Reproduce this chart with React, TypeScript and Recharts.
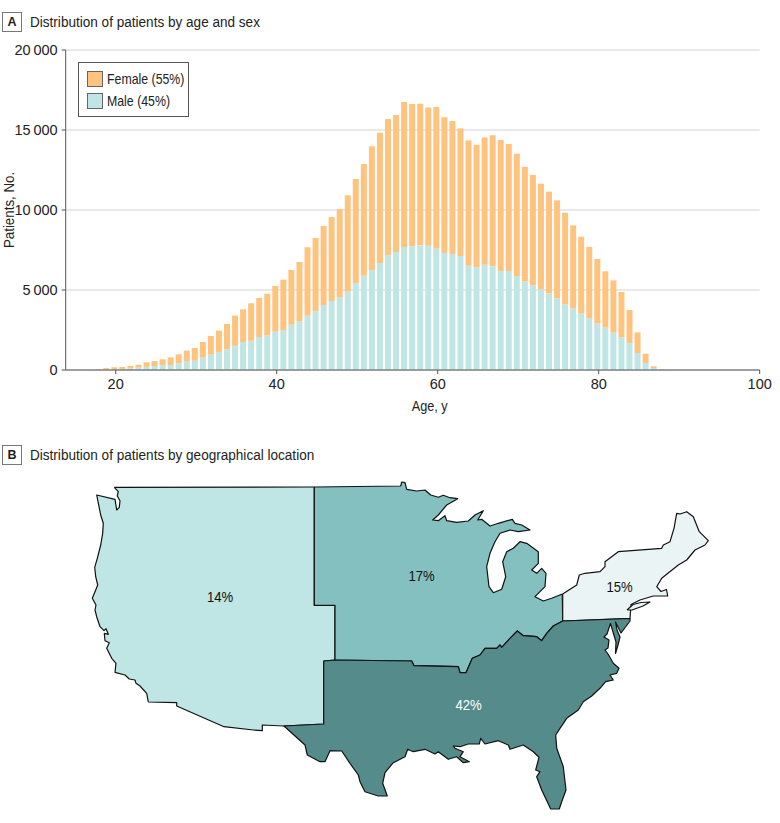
import {
  BarChart,
  Bar,
  XAxis,
  YAxis,
  CartesianGrid,
  Legend,
  ScatterChart,
  Scatter,
} from "recharts";

const ages = [
  18, 19, 20, 21, 22, 23, 24, 25, 26, 27, 28, 29, 30, 31, 32, 33, 34, 35, 36, 37, 38, 39, 40, 41,
  42, 43, 44, 45, 46, 47, 48, 49, 50, 51, 52, 53, 54, 55, 56, 57, 58, 59, 60, 61, 62, 63, 64, 65,
  66, 67, 68, 69, 70, 71, 72, 73, 74, 75, 76, 77, 78, 79, 80, 81, 82, 83, 84, 85, 86, 87, 88,
];
const male = [
  10, 30, 50, 60, 100, 150, 200, 250, 300, 310, 420, 550, 580, 770, 960, 1130, 1290, 1510, 1750,
  1830, 2060, 2150, 2400, 2500, 2830, 3040, 3400, 3670, 4060, 4310, 4520, 4900, 5420, 5900, 6250,
  6690, 7170, 7375, 7690, 7730, 7790, 7770, 7600, 7310, 7250, 7125, 6520, 6420, 6580, 6480, 6190,
  6190, 5875, 5540, 5290, 5040, 4790, 4480, 4100, 3850, 3520, 3250, 2900, 2650, 2330, 2040, 1690,
  1060, 440, 125, 10,
];
const female = [
  40, 90, 120, 130, 150, 180, 280, 310, 370, 480, 560, 660, 795, 980, 1165, 1330, 1585, 1890, 2040,
  2340, 2440, 2620, 2850, 3150, 3420, 3710, 4270, 4580, 4940, 5250, 5540, 6015, 6520, 6975, 7730,
  8140, 8520, 8565, 9060, 8895, 8855, 8630, 8840, 8480, 8310, 7975, 7830, 7660, 7960, 8190, 8185,
  7935, 7645, 7160, 6900, 6610, 6360, 6120, 5730, 5190, 4810, 4440, 4040, 3520, 3270, 2835, 2060,
  1290, 580, 105, 30,
];
const xTicks = [20, 40, 60, 80, 100];
const yTicks = [0, 5000, 10000, 15000, 20000];

type Pt = [number, number];

// map outlines, same units as the page
const westOutline: Pt[] = [
  [114.3, 487.3], [313.3, 487], [314.3, 487], [314.3, 605.3], [335, 605.3], [335, 660], [323.7, 661],
  [323.7, 724], [284, 726], [262.3, 725], [262.3, 730.7], [253.3, 730], [224, 726.7], [176.7, 706],
  [176.7, 702.7], [148.3, 702], [146.7, 693.3], [140, 686], [136, 683.3], [135, 680], [129.3, 679],
  [125, 675], [115, 672.3], [116, 663.3], [111.7, 658.3], [106.7, 648.3], [109.3, 642.7], [105, 640.7],
  [104.3, 633.3], [108.3, 634.3], [106, 628.7], [104, 630.7], [100, 626.7], [96.7, 616.7], [95, 610],
  [96, 605], [92.3, 598.3], [95, 591.7], [97.7, 585], [95.7, 576.7], [94.7, 567.3], [97.3, 558.3],
  [100.7, 545], [102.7, 533.3], [103.3, 523.3], [100.7, 515], [96.7, 495], [115, 499.3], [116.7, 510],
  [119.3, 507.3], [120, 500.7], [117.3, 496], [118.3, 491.7], [114.3, 487.3],
];
const midwestOutline: Pt[] = [
  [314.3, 487], [400.7, 486], [401.7, 482], [405, 482.7], [406.7, 489.3], [416.7, 491], [425, 490],
  [430.7, 495], [438.3, 497.3], [443.3, 495.3], [450, 497.7], [457.7, 498.7], [446.7, 505], [438.3, 515],
  [432.7, 520], [438.3, 520.7], [445, 515.7], [446.7, 520.7], [456.7, 522.3], [468.3, 521], [475, 515],
  [483.3, 510.7], [477.7, 520], [481.7, 519.3], [490, 526], [498.3, 523.3], [512.3, 519.3], [515, 523.3],
  [521.7, 525], [530, 530], [518.3, 531.7], [510, 530], [500, 533.3], [495, 541.7], [490, 553.3],
  [486.7, 566.7], [489, 586.7], [493.3, 592.7], [501.7, 589.3], [505.7, 576.7], [502.7, 561.7],
  [506.7, 551.7], [513.3, 548.3], [520, 541.7], [526.7, 543.3], [538.3, 551.7], [538.3, 563.3],
  [531.7, 570], [536.7, 573.3], [541.7, 568.3], [546, 573.3], [545, 586.7], [535, 596.7], [543.3, 601],
  [551.7, 598.3], [562.3, 594], [562.7, 621], [553.3, 626], [546.7, 633.3], [541.7, 640.7], [536.7, 636.7],
  [523.3, 635.7], [517.3, 631], [510, 638.3], [501.7, 647.3], [500, 645], [496.7, 648.3], [485, 648.3],
  [480, 655], [472.3, 658.3], [466, 672.7], [460, 672.7], [458.3, 666.7], [414, 665.7], [411.7, 661],
  [335, 660], [335, 605.3], [314.3, 605.3], [314.3, 487],
];
const northeastOutline: Pt[] = [
  [562.7, 594], [576.7, 585], [579.3, 575], [585, 573.3], [600, 571.7], [605, 566.7], [605, 561.7],
  [618.3, 551.7], [661.7, 548.3], [663.3, 545], [670, 541.7], [674, 528.3], [676.7, 513.3], [680, 514],
  [686.7, 511.7], [693.3, 516.7], [699.3, 531.7], [708.3, 540.7], [705, 545], [695, 550], [686.7, 560],
  [678.3, 565], [661.7, 578.3], [656.7, 586.7], [661, 591.5], [666.5, 589.5], [667.7, 596], [661.7, 596],
  [653.3, 596], [640, 600], [631, 604.5], [630, 618.3], [562.7, 621], [562.7, 594],
];
const longIslandOutline: Pt[] = [
  [627, 610], [633, 604.5], [641, 602.5], [650, 602], [643, 606], [632, 610], [627, 610],
];
const southOutline: Pt[] = [
  [323.7, 661], [335, 660], [411.7, 661], [414, 665.7], [458.3, 666.7], [460, 672.7], [466, 672.7],
  [472.3, 658.3], [480, 655], [485, 648.3], [496.7, 648.3], [500, 645], [501.7, 647.3], [510, 638.3],
  [517.3, 631], [523.3, 635.7], [536.7, 636.7], [541.7, 640.7], [546.7, 633.3], [553.3, 626], [562.7, 621],
  [630, 618.5], [630, 621], [625.5, 627], [621, 633], [618, 627], [615.5, 622], [617, 630], [620, 637],
  [618, 645], [615.5, 653.5], [616, 642], [613, 632], [610.5, 623.5], [607, 634], [604, 637],
  [609, 640], [608, 648], [605, 650], [608, 654], [613.3, 663.3], [619, 668.3], [616.7, 673.3],
  [610, 675], [613.3, 680], [605.7, 681.7], [600, 688.3], [591.7, 696], [583.3, 701.7], [578.3, 710],
  [566.7, 718.3], [560, 728.3], [555.7, 735], [556.7, 748.3], [563.3, 766.7], [566, 790], [561.7, 801.7],
  [559.3, 809], [550.7, 809], [541.7, 790], [536.7, 776.7], [540, 771.7], [535.7, 770], [539, 757.3],
  [533.3, 751.7], [523.3, 745], [510, 749.3], [508.3, 745], [498.3, 740.7], [485, 744], [480.7, 738.3],
  [479.3, 744], [468.3, 744], [460, 746.7], [453.3, 746], [455, 748.3], [463.3, 751.7], [460, 756.7],
  [469.3, 761.7], [463.3, 762.7], [456.7, 756.7], [448.3, 759.3], [438.3, 751.7], [435, 754], [425, 749.3],
  [413.3, 751.7], [407.7, 749.3], [405, 756.7], [393.3, 762.7], [385, 772.7], [382.7, 783.3], [387.3, 796],
  [378.3, 796], [365, 791.7], [360, 781.7], [358.3, 775], [350, 763.3], [341.7, 751], [330, 750.7],
  [325, 761.7], [320, 761.7], [307.3, 755], [305, 745], [284, 726], [323.7, 724], [323.7, 661],
];
const regionLabels = ["14%", "17%", "15%", "42%"];
const regionLabelPoints: Pt[] = [[220, 597], [421.6, 576], [619.5, 587], [468.5, 705]];

const FONT = "'Liberation Sans', sans-serif";
const ORANGE = "#FEC47F";
const TEAL = "#BFE5E5";

// no narrow face is installed, so the text is squeezed by hand
const NARROW = "scaleX(0.875)";
const narrowSvg = { transformBox: "fill-box", transformOrigin: "center", transform: NARROW } as const;

const table = ages.map((age, i) => ({
  bin: age - 0.17,
  male: male[i],
  female: female[i],
}));

const toPoints = (outline: Pt[]) => outline.map(([x, y]) => ({ x, y }));

const formatThousands = (v: number) =>
  v >= 1000 ? `${Math.floor(v / 1000)}\u2009${String(v % 1000).padStart(3, "0")}` : String(v);

const regions = [
  { name: "West", outline: westOutline, fill: TEAL },
  { name: "Midwest", outline: midwestOutline, fill: "#85C0C0" },
  { name: "Northeast", outline: northeastOutline, fill: "#EAF4F5" },
  { name: "Long Island", outline: longIslandOutline, fill: "#EAF4F5" },
  { name: "South", outline: southOutline, fill: "#558B8B" },
];

function LegendBox() {
  const items = [
    { label: "Female (55%)", color: ORANGE },
    { label: "Male (45%)", color: TEAL },
  ];
  return (
    <div
      style={{
        width: 111,
        height: 55,
        boxSizing: "border-box",
        border: "1px solid #555",
        background: "#fff",
        padding: "8px 0 0 8px",
        fontFamily: FONT,
        fontSize: 14.5,
        color: "#222",
      }}
    >
      {items.map((it) => (
        <div key={it.label} style={{ display: "flex", alignItems: "center", height: 16, marginBottom: 6 }}>
          <span
            style={{
              display: "inline-block",
              boxSizing: "border-box",
              flex: "none",
              width: 16,
              height: 16,
              background: it.color,
              border: "1px solid #666",
              marginRight: 4,
            }}
          />
          <span style={{ whiteSpace: "nowrap", transform: "scaleX(0.85)", transformOrigin: "left center" }}>
            {it.label}
          </span>
        </div>
      ))}
    </div>
  );
}

function PanelTitle({ letter, title, top }: { letter: string; title: string; top: number }) {
  return (
    <div
      style={{
        position: "absolute",
        left: 2,
        top,
        display: "flex",
        alignItems: "center",
        fontFamily: FONT,
        fontSize: 15.5,
        color: "#222",
      }}
    >
      <span
        style={{
          width: 20,
          height: 20,
          boxSizing: "border-box",
          border: "1px solid #777",
          display: "inline-flex",
          alignItems: "center",
          justifyContent: "center",
          fontWeight: 700,
          fontSize: 12.5,
          marginRight: 8,
        }}
      >
        {letter}
      </span>
      <span style={{ whiteSpace: "nowrap", transform: NARROW, transformOrigin: "left center" }}>{title}</span>
    </div>
  );
}

const noDot = () => <g />;

const RegionText = (props: any) => {
  const label = regionLabels[props.index];
  return (
    <text
      x={props.cx}
      y={props.cy}
      textAnchor="middle"
      dominantBaseline="central"
      fontFamily={FONT}
      fontSize={15}
      fill={label === "42%" ? "#fff" : "#111"}
      style={narrowSvg}
    >
      {label}
    </text>
  );
};

const tickStyle = { fontFamily: FONT, fontSize: 14.5, fill: "#222" };
const axisCss = `
  .recharts-xAxis .recharts-cartesian-axis-tick-value { transform-box: fill-box; transform-origin: center; transform: ${NARROW}; }
  .recharts-yAxis .recharts-cartesian-axis-tick-value { transform-box: fill-box; transform-origin: right center; transform: ${NARROW}; }
`;

export default function App() {
  return (
    <div style={{ position: "absolute", left: 0, top: 0, width: 780, height: 823, background: "#fff" }}>
      <style>{axisCss}</style>
      <PanelTitle letter="A" title="Distribution of patients by age and sex" top={12} />
      <BarChart
        width={780}
        height={430}
        data={table}
        margin={{ top: 50, right: 20.3, bottom: 30, left: 0 }}
        barSize={6}
        style={{ position: "absolute", left: 0, top: 0 }}
      >
        <CartesianGrid vertical={false} stroke="#E2E2E2" strokeWidth={1.5} />
        <XAxis
          dataKey="bin"
          type="number"
          domain={[13.79, 100]}
          ticks={xTicks}
          height={30}
          stroke="#555"
          tick={tickStyle}
          tickSize={4}
          tickMargin={5}
          label={{
            value: "Age, y",
            position: "insideBottom",
            offset: -11,
            dx: 17,
            style: { ...tickStyle, ...narrowSvg },
          }}
        />
        <YAxis
          type="number"
          domain={[0, 20000]}
          ticks={yTicks}
          width={65.7}
          stroke="#555"
          tick={tickStyle}
          tickSize={4}
          tickMargin={4}
          tickFormatter={formatThousands}
          label={{
            value: "Patients, No.",
            position: "insideLeft",
            offset: 9,
            style: {
              ...tickStyle,
              textAnchor: "middle",
              transformBox: "fill-box",
              transformOrigin: "center",
              transform: "rotate(-90deg) scaleX(0.92)",
            },
          }}
        />
        <Bar dataKey="male" stackId="a" fill={TEAL} isAnimationActive={false} />
        <Bar dataKey="female" stackId="a" fill={ORANGE} isAnimationActive={false} />
        <Legend
          layout="horizontal"
          align="center"
          verticalAlign="middle"
          content={<LegendBox />}
          wrapperStyle={{ left: 78, top: 62, width: 111, height: 55 }}
        />
      </BarChart>
      <PanelTitle letter="B" title="Distribution of patients by geographical location" top={445} />
      <ScatterChart
        width={780}
        height={353}
        margin={{ top: 0, right: 0, bottom: 0, left: 0 }}
        style={{ position: "absolute", left: 0, top: 470 }}
      >
        <XAxis hide type="number" dataKey="x" domain={[0, 780]} />
        <YAxis hide type="number" dataKey="y" domain={[470, 823]} reversed />
        {regions.map((r) => (
          <Scatter
            key={r.name}
            name={r.name}
            data={toPoints(r.outline)}
            shape={noDot}
            line={{ fill: r.fill, stroke: "#111", strokeWidth: 1.2, strokeLinejoin: "round" }}
            isAnimationActive={false}
          />
        ))}
        <Scatter data={toPoints(regionLabelPoints)} shape={RegionText} isAnimationActive={false} />
      </ScatterChart>
    </div>
  );
}
